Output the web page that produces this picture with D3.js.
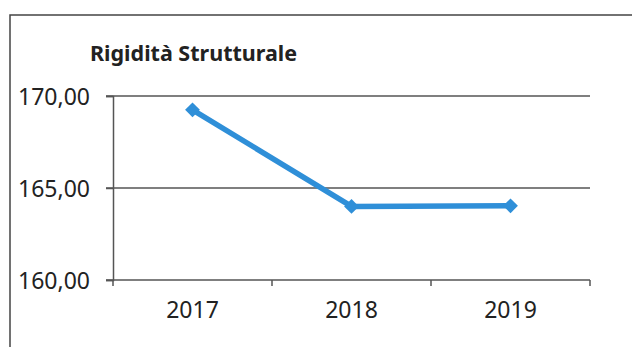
<!DOCTYPE html>
<html>
<head>
<meta charset="utf-8">
<script src="https://cdn.jsdelivr.net/npm/d3@7"></script>
<style>
  body { margin: 0; background: #fff; }
  text { font-family: "Noto Sans", "Open Sans", sans-serif; fill: #222; }
</style>
</head>
<body>
<div id="graph"></div>
<script>
// chart data
var g_years = ["2017", "2018", "2019"];
var g_values = [169.25, 164.0, 164.03];
var g_ticks = [160, 165, 170];

var g_width = 632, g_height = 347;
var g_plot = { left: 113, right: 590, top: 96, bottom: 280 };

var g_svg = d3.select("#graph")
  .append("svg")
    .attr("width", g_width)
    .attr("height", g_height);

// frame
g_svg.append("rect")
    .attr("x", 10).attr("y", 15)
    .attr("width", 640).attr("height", 360)
    .attr("fill", "none")
    .attr("stroke", "#444")
    .attr("stroke-width", 1.5);

var x = d3.scaleBand()
    .domain(g_years)
    .range([g_plot.left, g_plot.right]);

var y = d3.scaleLinear()
    .domain([160, 170])
    .range([g_plot.bottom, g_plot.top]);

// gridlines
g_svg.append("g")
  .selectAll("line")
  .data(g_ticks)
  .join("line")
    .attr("x1", g_plot.left - 7)
    .attr("x2", g_plot.right)
    .attr("y1", function (d) { return y(d); })
    .attr("y2", function (d) { return y(d); })
    .attr("stroke", "#555")
    .attr("stroke-width", 1.5);

// y axis
var y_axis = g_svg.append("g")
    .attr("transform", "translate(" + g_plot.left + ",0)")
    .call(d3.axisLeft(y)
        .tickValues(g_ticks)
        .tickSize(7)
        .tickPadding(16)
        .tickFormat(function (d) { return d3.format(".2f")(d).replace(".", ","); }));
y_axis.select(".domain").attr("stroke", "#555").attr("stroke-width", 1.5);
y_axis.selectAll("line").attr("stroke", "#555").attr("stroke-width", 1.5);
y_axis.selectAll("text").attr("font-size", 23).attr("dy", "0.36em");

// x axis
var x_axis = g_svg.append("g")
    .attr("transform", "translate(0," + g_plot.bottom + ")")
    .call(d3.axisBottom(x).tickSize(0).tickPadding(22));
x_axis.select(".domain").remove();
x_axis.selectAll("text").attr("font-size", 23);

// category boundary ticks
var bounds = g_years.map(function (d) { return x(d) + x.bandwidth(); });
bounds.unshift(g_plot.left);
g_svg.append("g")
  .selectAll("line")
  .data(bounds)
  .join("line")
    .attr("x1", function (d) { return d; })
    .attr("x2", function (d) { return d; })
    .attr("y1", g_plot.bottom)
    .attr("y2", g_plot.bottom + 6)
    .attr("stroke", "#555")
    .attr("stroke-width", 1.5);

// series
var line = d3.line()
    .x(function (d, i) { return x(g_years[i]) + x.bandwidth() / 2; })
    .y(function (d) { return y(d); });

g_svg.append("path")
    .datum(g_values)
    .attr("d", line)
    .attr("fill", "none")
    .attr("stroke", "#2f8fd8")
    .attr("stroke-width", 5.5)
    .attr("stroke-linejoin", "round");

g_svg.append("g")
  .selectAll("path")
  .data(g_values)
  .join("path")
    .attr("d", d3.symbol(d3.symbolDiamond2, 140))
    .attr("transform", function (d, i) {
        return "translate(" + (x(g_years[i]) + x.bandwidth() / 2) + "," + y(d) + ")";
    })
    .attr("fill", "#2f8fd8");

// title
g_svg.append("text")
    .attr("x", 90)
    .attr("y", 61)
    .attr("font-size", 21.5)
    .attr("font-weight", "bold")
    .text("Rigidità Strutturale");
</script>
</body>
</html>
